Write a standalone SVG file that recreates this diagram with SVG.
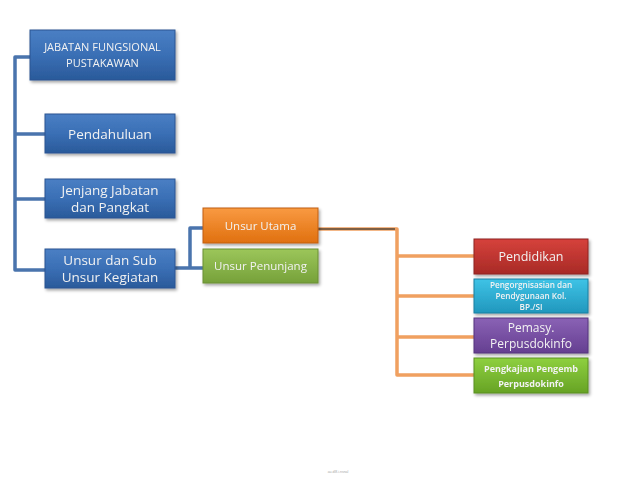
<svg xmlns="http://www.w3.org/2000/svg" width="638" height="479" viewBox="0 0 638 479">
<defs>
<style>
.t{font-family:"Open Sans","Liberation Sans",sans-serif;fill:#f2f2f2;text-anchor:middle}
.b{stroke-width:1}
.cb{fill:none;stroke:#4a74ad;stroke-width:3.5;stroke-linejoin:round}
.co{fill:none;stroke:#f0a060;stroke-width:3.5;stroke-linejoin:round}
</style>
<filter id="sh" x="-10%" y="-20%" width="125%" height="150%">
<feDropShadow dx="1.5" dy="2" stdDeviation="1.5" flood-color="#000" flood-opacity="0.35"/>
</filter>
<linearGradient id="gBlue" x1="0" y1="0" x2="0" y2="1"><stop offset="0" stop-color="#4a7fc4"/><stop offset="0.5" stop-color="#3a6fb5"/><stop offset="1" stop-color="#2a5a9a"/></linearGradient>
<linearGradient id="gOr" x1="0" y1="0" x2="0" y2="1"><stop offset="0" stop-color="#f99a42"/><stop offset="1" stop-color="#e0700f"/></linearGradient>
<linearGradient id="gGr" x1="0" y1="0" x2="0" y2="1"><stop offset="0" stop-color="#9cc65a"/><stop offset="1" stop-color="#76a13a"/></linearGradient>
<linearGradient id="gRed" x1="0" y1="0" x2="0" y2="1"><stop offset="0" stop-color="#d6423c"/><stop offset="1" stop-color="#a82a26"/></linearGradient>
<linearGradient id="gCy" x1="0" y1="0" x2="0" y2="1"><stop offset="0" stop-color="#3ec3e6"/><stop offset="1" stop-color="#2197bd"/></linearGradient>
<linearGradient id="gPu" x1="0" y1="0" x2="0" y2="1"><stop offset="0" stop-color="#8a62b5"/><stop offset="1" stop-color="#653f91"/></linearGradient>
<linearGradient id="gLi" x1="0" y1="0" x2="0" y2="1"><stop offset="0" stop-color="#8ed03f"/><stop offset="1" stop-color="#67a325"/></linearGradient>
</defs>
<rect width="638" height="479" fill="#ffffff"/>
<g id="connectors">
<path class="cb" d="M30 57 H15 V270 H45 M15 134 H45 M15 199 H45"/>
<path class="cb" d="M175 268 H190 V228 H203 M190 268 H203"/>
<path class="co" d="M318 229 H397 V375 H478 M397 256 H478 M397 296 H478 M397 337 H478"/>
<path d="M318 229 H395" fill="none" stroke="#5a4a3a" stroke-width="1.5"/>
</g>
<g id="n1" filter="url(#sh)"><rect x="30" y="30" width="145" height="50" fill="url(#gBlue)" stroke="#2a5592" class="b"/><text class="t" x="102.5" y="51" font-size="11">JABATAN FUNGSIONAL</text><text class="t" x="102.5" y="67" font-size="11">PUSTAKAWAN</text></g>
<g id="n2" filter="url(#sh)"><rect x="45" y="114" width="130" height="39" fill="url(#gBlue)" stroke="#2a5592" class="b"/><text class="t" x="110" y="139" font-size="13.5">Pendahuluan</text></g>
<g id="n3" filter="url(#sh)"><rect x="45" y="179" width="130" height="39" fill="url(#gBlue)" stroke="#2a5592" class="b"/><text class="t" x="110" y="195" font-size="13.5">Jenjang Jabatan</text><text class="t" x="110" y="212" font-size="13.5">dan Pangkat</text></g>
<g id="n4" filter="url(#sh)"><rect x="45" y="249" width="130" height="39" fill="url(#gBlue)" stroke="#2a5592" class="b"/><text class="t" x="110" y="265" font-size="13.5">Unsur dan Sub</text><text class="t" x="110" y="282" font-size="13.5">Unsur Kegiatan</text></g>
<g id="n5" filter="url(#sh)"><rect x="203" y="208" width="115" height="35" fill="url(#gOr)" stroke="#c05e10" class="b"/><text class="t" x="260.5" y="230" font-size="11.5">Unsur Utama</text></g>
<g id="n6" filter="url(#sh)"><rect x="203" y="249" width="115" height="34" fill="url(#gGr)" stroke="#6a8f35" class="b"/><text class="t" x="260.5" y="270" font-size="11.5">Unsur Penunjang</text></g>
<g id="n7" filter="url(#sh)"><rect x="474" y="239" width="114" height="35" fill="url(#gRed)" stroke="#8e2420" class="b"/><text class="t" x="531" y="261" font-size="12.5">Pendidikan</text></g>
<g id="n8" filter="url(#sh)"><rect x="474" y="279" width="114" height="34" fill="url(#gCy)" stroke="#1d7fa0" class="b"/><text class="t" x="531" y="288" font-size="8.2" font-weight="600">Pengorgnisasian dan</text><text class="t" x="531" y="299" font-size="8.2" font-weight="600">Pendygunaan Kol.</text><text class="t" x="531" y="310" font-size="8.2" font-weight="600">BP./SI</text></g>
<g id="n9" filter="url(#sh)"><rect x="474" y="318" width="114" height="35" fill="url(#gPu)" stroke="#55357d" class="b"/><text class="t" x="531" y="332" font-size="12">Pemasy.</text><text class="t" x="531" y="348" font-size="12">Perpusdokinfo</text></g>
<g id="n10" filter="url(#sh)"><rect x="474" y="358" width="114" height="35" fill="url(#gLi)" stroke="#5a8f20" class="b"/><text class="t" x="531" y="372" font-size="9" font-weight="bold">Pengkajian Pengemb</text><text class="t" x="531" y="387" font-size="9" font-weight="bold">Perpusdokinfo</text></g>
<text x="338" y="473" font-family="Liberation Sans, sans-serif" font-size="3.5" fill="#aaaaaa" text-anchor="middle">au.dl8.i.nsnal</text>
</svg>
